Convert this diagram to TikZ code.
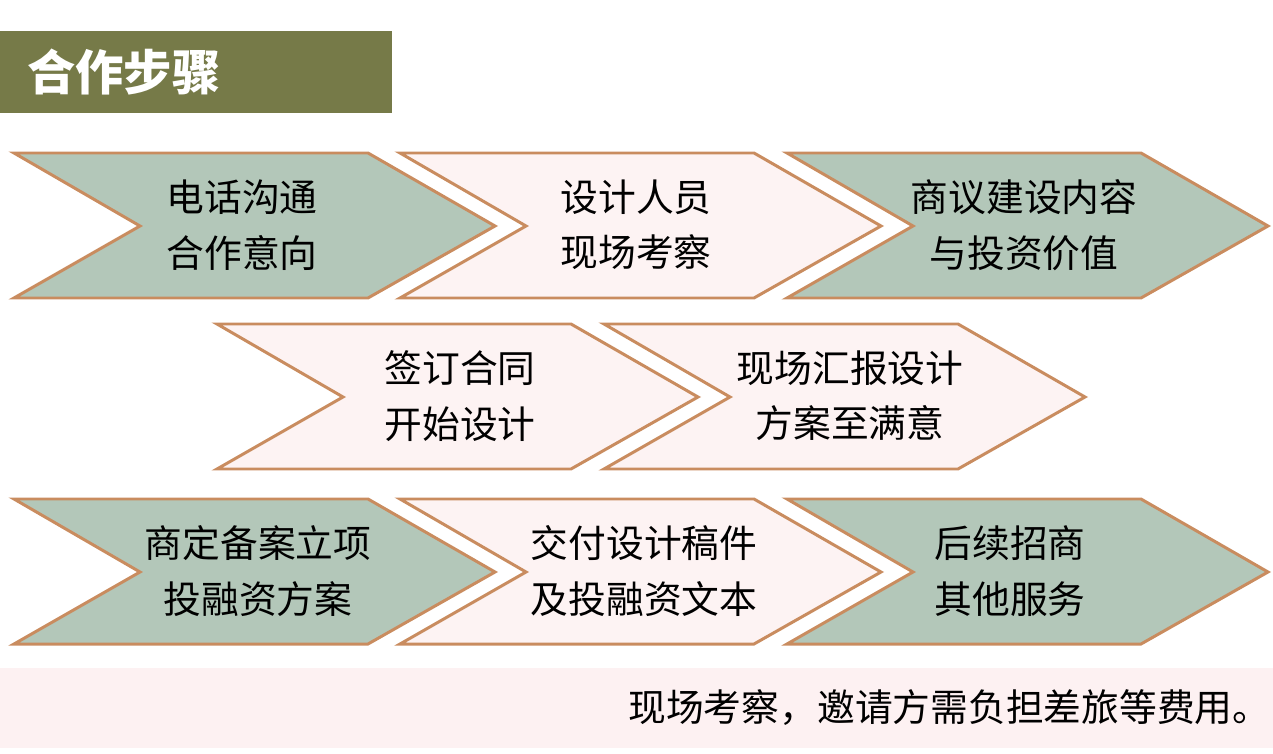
\documentclass[tikz,border=0pt]{standalone}
\usepackage{fontspec}
\setmainfont{Noto Sans CJK SC}
\usetikzlibrary{positioning}
\definecolor{olivebar}{HTML}{767A48}
\definecolor{stepgreen}{HTML}{B3C7B9}
\definecolor{steppink}{HTML}{FDF3F3}
\definecolor{stepedge}{HTML}{C98C5F}
\definecolor{notebar}{HTML}{FDF1F2}

\begin{document}
\begin{tikzpicture}[x=0.02cm, y=-0.02cm, line width=1.7pt,
    steptext/.style={align=center, inner sep=0pt, font=\fontsize{21.5}{31.5}\selectfont}]

    \useasboundingbox (0,0) rectangle (1273,753);

    % title bar
    \fill[olivebar] (0,31) rectangle (392,113);
    \node[anchor=west, text=white, font=\fontsize{27.5}{30}\selectfont\bfseries] (title) at (20,72) {合作步骤};

    % chevrons
    \foreach \x/\y/\col/\tx/\nm/\txt in {
        14/153/stepgreen/228/phone/{电话沟通\\合作意向},
        400/153/steppink/236/visit/{设计人员\\现场考察},
        787/153/stepgreen/237/talk/{商议建设内容\\与投资价值},
        217/324/steppink/243/sign/{签订合同\\开始设计},
        604/324/steppink/246/report/{现场汇报设计\\方案至满意},
        14/499/stepgreen/244/plan/{商定备案立项\\投融资方案},
        400/499/steppink/244/deliver/{交付设计稿件\\及投融资文本},
        787/499/stepgreen/223/service/{后续招商\\其他服务}}
    {
        \begin{scope}[shift={(\x,\y)}]
            \filldraw[fill=\col, draw=stepedge] (0,0) -- (354,0) -- (481,73) -- (354,145) -- (0,145) -- (126,73) -- cycle;
            \node[steptext] (\nm) at (\tx,72) {\txt};
        \end{scope}
    }

    % note bar
    \fill[notebar] (0,668) rectangle (1273,748);
    \node[anchor=east, inner sep=0pt, font=\fontsize{21.5}{26}\selectfont] (note) at (1272,708) {现场考察，邀请方需负担差旅等费用。};

\end{tikzpicture}
\end{document}
